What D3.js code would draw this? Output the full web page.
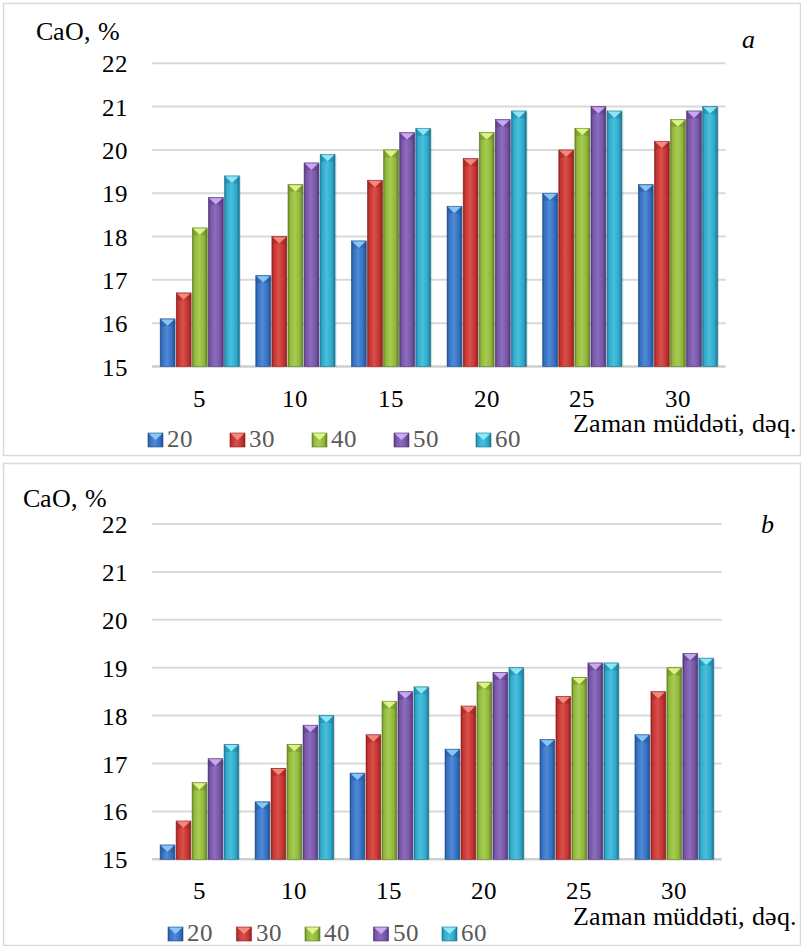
<!DOCTYPE html>
<html>
<head>
<meta charset="utf-8">
<script src="https://cdn.jsdelivr.net/npm/d3@7"></script>
<style>
  @font-face {
    font-family: "ChartSerif";
    src: local("Liberation Serif"), local("LiberationSerif"), local("LiberationSerif-Regular");
    font-style: normal;
  }
  @font-face {
    font-family: "ChartSerif";
    src: local("Liberation Serif Italic"), local("LiberationSerif-Italic");
    font-style: italic;
  }
  html, body { margin: 0; padding: 0; background: #fff; }
  svg text { font-family: "ChartSerif", "Liberation Serif", Tinos, "Times New Roman", serif !important; }
</style>
</head>
<body>
<svg id="chart" width="801" height="946"></svg>
<script>
// Time (minutes) categories and temperature series
const categories = ["5", "10", "15", "20", "25", "30"];
const seriesNames = ["20", "30", "40", "50", "60"];
const yTicks = [15, 16, 17, 18, 19, 20, 21, 22];

// Panel a: CaO content, %
const panelA20 = [16.1, 17.1, 17.9, 18.7, 19.0, 19.2];
const panelA30 = [16.7, 18.0, 19.3, 19.8, 20.0, 20.2];
const panelA40 = [18.2, 19.2, 20.0, 20.4, 20.5, 20.7];
const panelA50 = [18.9, 19.7, 20.4, 20.7, 21.0, 20.9];
const panelA60 = [19.4, 19.9, 20.5, 20.9, 20.9, 21.0];

// Panel b: CaO content, %
const panelB20 = [15.3, 16.2, 16.8, 17.3, 17.5, 17.6];
const panelB30 = [15.8, 16.9, 17.6, 18.2, 18.4, 18.5];
const panelB40 = [16.6, 17.4, 18.3, 18.7, 18.8, 19.0];
const panelB50 = [17.1, 17.8, 18.5, 18.9, 19.1, 19.3];
const panelB60 = [17.4, 18.0, 18.6, 19.0, 19.1, 19.2];

const SERIF = "ChartSerif, 'Liberation Serif', Tinos, 'Times New Roman', serif";

// bevel palette per series: [dark edge, base, light, cap]
const palette = [
  ["#1f4f8f", "#3470c0", "#4f8ad6", "#8cc8f5"],
  ["#8e2220", "#c4332f", "#d9504a", "#f58b80"],
  ["#5f7f22", "#8fb63a", "#a8cc52", "#e2f58a"],
  ["#4f3478", "#7755a6", "#8d6cbc", "#cdaaf5"],
  ["#1a7590", "#2ea8ca", "#49bfdd", "#8fe9f8"]
];

const svg = d3.select("#chart");
const defs = svg.append("defs");

palette.forEach((c, i) => {
  const g = defs.append("linearGradient")
    .attr("id", "bar" + i).attr("x1", "0").attr("x2", "1").attr("y1", "0").attr("y2", "0");
  [[0, c[0]], [0.12, c[1]], [0.45, c[2]], [0.8, c[1]], [1, c[0]]].forEach(([o, col]) =>
    g.append("stop").attr("offset", o).attr("stop-color", col));
});

function serifText(sel, size) {
  return sel.attr("font-family", SERIF)
    .style("font-family", SERIF)
    .style("font-size", size + "px");
}

function drawPanel(opts) {
  const { frame, left, right, top, bottom, series, yLabel, yLabelPos, letter, letterPos,
          catBaseline, xTitlePos, legendX, legendStep, legendBaseline } = opts;

  svg.append("rect")
    .attr("x", frame[0] + 0.5).attr("y", frame[1] + 0.5)
    .attr("width", frame[2]).attr("height", frame[3])
    .attr("fill", "none").attr("stroke", "#d9d9d9").attr("stroke-width", 1.5);

  const x0 = d3.scaleBand().domain(categories).range([left, right])
    .paddingInner(0.145).paddingOuter(0.072);
  const x1 = d3.scaleBand().domain(seriesNames).range([0, x0.bandwidth()]).padding(0.08);
  const y = d3.scaleLinear().domain([15, 22]).range([bottom, top]);

  const g = svg.append("g");

  // gridlines
  g.append("g").selectAll("line").data(yTicks).join("line")
    .attr("x1", left).attr("x2", right)
    .attr("y1", d => y(d)).attr("y2", d => y(d))
    .attr("stroke", d => d === 15 ? "#cfcfcf" : "#d9d9d9")
    .attr("stroke-width", d => d === 15 ? 2.5 : 2);

  // y axis labels
  const yAxis = d3.axisLeft(y).tickValues(yTicks).tickSize(0).tickPadding(0).tickFormat(d3.format("d"));
  const ya = g.append("g").attr("transform", `translate(${left - 24},0)`).call(yAxis)
    .attr("font-family", SERIF).attr("font-size", null);
  ya.select(".domain").remove();
  serifText(ya.selectAll("text"), 25).attr("fill", "#000").attr("dy", "0.34em");

  // x axis labels
  const xAxis = d3.axisBottom(x0).tickSize(0).tickPadding(0);
  const xa = g.append("g").attr("transform", `translate(0,${catBaseline})`).call(xAxis)
    .attr("font-family", SERIF).attr("font-size", null);
  xa.select(".domain").remove();
  serifText(xa.selectAll("text"), 25).attr("fill", "#000").attr("dy", "0");

  // bars
  const groups = g.append("g").selectAll("g").data(categories).join("g")
    .attr("transform", d => `translate(${x0(d)},0)`);

  groups.each(function (cat, ci) {
    const sel = d3.select(this);
    seriesNames.forEach((s, si) => {
      const v = series[si][ci];
      const bx = x1(s), bw = x1.bandwidth();
      const by = y(v), bh = y(15) - y(v);
      const c = palette[si];
      const bar = sel.append("g");
      // soft shadow to the right
      bar.append("rect")
        .attr("x", bx + 1.5).attr("y", by + 1).attr("width", bw).attr("height", bh - 1)
        .attr("fill", "#000").attr("opacity", 0.12);
      bar.append("rect")
        .attr("x", bx).attr("y", by).attr("width", bw).attr("height", bh)
        .attr("fill", `url(#bar${si})`)
        .attr("stroke", c[0]).attr("stroke-width", 0.6);
      // pyramid bevel cap
      const cap = Math.min(7, bh);
      bar.append("path")
        .attr("d", `M${bx + 0.6},${by + 0.6} L${bx + bw - 0.6},${by + 0.6} L${bx + bw / 2},${by + cap} Z`)
        .attr("fill", c[3]).attr("opacity", 0.95);
      bar.append("path")
        .attr("d", `M${bx + 0.6},${by + 0.6} L${bx + bw / 2},${by + cap} L${bx + 0.6},${by + cap + 1} Z`)
        .attr("fill", c[0]).attr("opacity", 0.35);
      bar.append("path")
        .attr("d", `M${bx + bw - 0.6},${by + 0.6} L${bx + bw / 2},${by + cap} L${bx + bw - 0.6},${by + cap + 1} Z`)
        .attr("fill", c[0]).attr("opacity", 0.35);
    });
  });

  // y title
  serifText(svg.append("text"), 25.5).attr("x", yLabelPos[0]).attr("y", yLabelPos[1])
    .attr("fill", "#000").text(yLabel);

  // panel letter
  serifText(svg.append("text"), 26).attr("x", letterPos[0]).attr("y", letterPos[1])
    .style("font-style", "italic").attr("fill", "#000").text(letter);

  // x title
  serifText(svg.append("text"), 26).attr("x", xTitlePos[0]).attr("y", xTitlePos[1])
    .attr("text-anchor", "end").attr("fill", "#000")
    .text("Zaman müddəti, dəq.");

  // legend
  const leg = svg.append("g").selectAll("g").data(seriesNames).join("g")
    .attr("transform", (d, i) => `translate(${legendX + i * legendStep},${legendBaseline})`);
  leg.each(function (d, i) {
    const c = palette[i];
    const l = d3.select(this);
    l.append("rect").attr("x", 0).attr("y", -14).attr("width", 15).attr("height", 14)
      .attr("fill", `url(#bar${i})`).attr("stroke", c[0]).attr("stroke-width", 0.6);
    l.append("path").attr("d", "M0.6,-13.4 L14.4,-13.4 L7.5,-7 Z").attr("fill", c[3]);
    serifText(l.append("text"), 25).attr("x", 19).attr("y", 0)
      .attr("fill", "#595959").text(d);
  });
}

drawPanel({
  frame: [3, 3, 797, 452],
  left: 152, right: 725.7, top: 63.3, bottom: 366.5,
  series: [panelA20, panelA30, panelA40, panelA50, panelA60],
  yLabel: "CaO, %", yLabelPos: [36, 40],
  letter: "a", letterPos: [742, 48],
  catBaseline: 407,
  xTitlePos: [797, 432],
  legendX: 148, legendStep: 82, legendBaseline: 447
});

drawPanel({
  frame: [3, 463, 797, 482],
  left: 152, right: 721.7, top: 524, bottom: 859.3,
  series: [panelB20, panelB30, panelB40, panelB50, panelB60],
  yLabel: "CaO, %", yLabelPos: [23, 507],
  letter: "b", letterPos: [761, 533],
  catBaseline: 899,
  xTitlePos: [797, 925],
  legendX: 168, legendStep: 68.5, legendBaseline: 941
});
</script>
</body>
</html>
